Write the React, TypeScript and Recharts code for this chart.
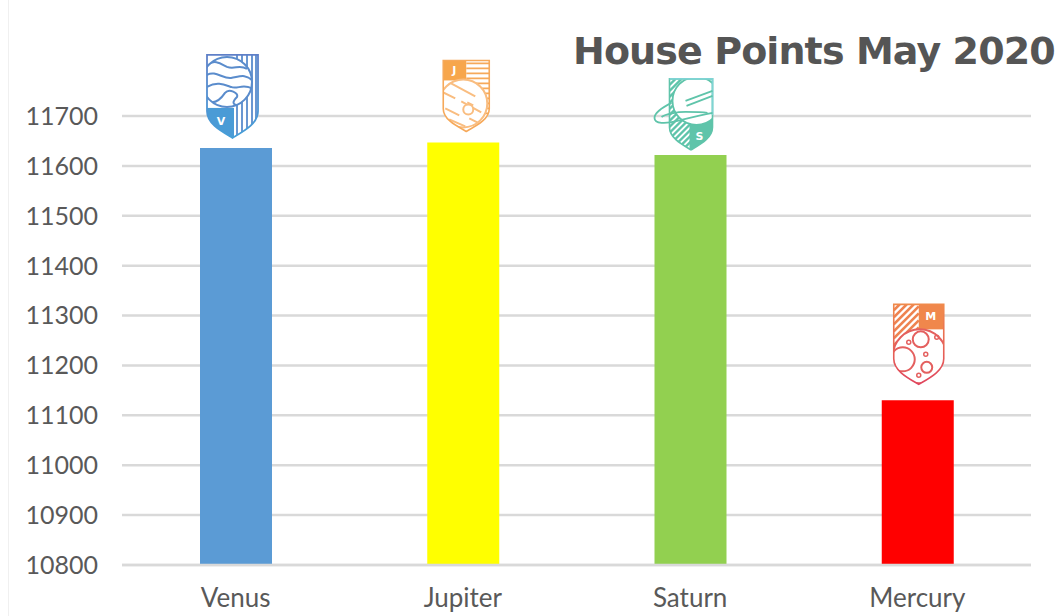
import { Bar, BarChart, CartesianGrid, Cell, LabelList, XAxis, YAxis } from "recharts";

const houses = ["Venus", "Jupiter", "Saturn", "Mercury"];
const points = [11636, 11647, 11622, 11130];
const barColors = ["#5b9bd5", "#ffff00", "#92d050", "#ff0000"];
const yTicks = [10800, 10900, 11000, 11100, 11200, 11300, 11400, 11500, 11600, 11700];

const chartData = houses.map((house, i) => ({ house, points: points[i] }));

const WIDTH = 1060;
const HEIGHT = 616;
const TEXT = "#595959";
const GRID = "#d9d9d9";
const FONT = "Lato, 'Open Sans', sans-serif";

function shieldPath(w: number, h: number) {
  return `M0 0 H${w} V${h * 0.68} C${w} ${h * 0.83} ${w * 0.72} ${h * 0.92} ${w / 2} ${h} C${w * 0.28} ${h * 0.92} 0 ${h * 0.83} 0 ${h * 0.68} Z`;
}

function CrestLetter({ x, y, children }: { x: number; y: number; children: string }) {
  return (
    <text x={x} y={y} fill="#fff" fontFamily="'DejaVu Sans', sans-serif" fontWeight="bold" fontSize={11} textAnchor="middle">
      {children}
    </text>
  );
}

function VenusCrest() {
  const w = 51;
  const h = 83;
  const c = "#5a8ccc";
  return (
    <g fill="none">
      <defs>
        <linearGradient id="venusGrad" x1="0" y1="0" x2="0" y2="1">
          <stop offset="0" stopColor="#5f80c8" />
          <stop offset="1" stopColor="#459fd8" />
        </linearGradient>
        <clipPath id="venusClip"><path d={shieldPath(w, h)} /></clipPath>
        <clipPath id="venusPlanet"><circle cx={20} cy={27} r={25} /></clipPath>
      </defs>
      <path d={shieldPath(w, h)} fill="#fff" />
      <g clipPath="url(#venusClip)">
        <rect x={0} y={53} width={27} height={32} fill="#4a9bd6" />
        {[30, 35, 40, 45, 49].map((sx) => (
          <line key={sx} x1={sx} y1={0} x2={sx} y2={h} stroke={c} strokeWidth={1.8} />
        ))}
        <circle cx={20} cy={27} r={25} fill="#fff" stroke={c} strokeWidth={2} />
        <g clipPath="url(#venusPlanet)" stroke={c} strokeWidth={2}>
          <path d="M0 10 C8 4 14 9 20 12 C28 15 32 9 40 14" />
          <path d="M0 20 C8 15 16 24 24 23 C32 22 38 18 46 26" />
          <path d="M0 32 C10 26 18 30 24 32 C30 35 36 28 46 34" />
          <path d="M0 46 C8 50 14 44 18 38 C22 33 32 38 30 42 C26 46 24 50 32 50 C38 50 42 46 44 44" />
        </g>
      </g>
      <path d={shieldPath(w, h)} stroke="url(#venusGrad)" strokeWidth={1.8} />
      <CrestLetter x={14} y={70}>V</CrestLetter>
    </g>
  );
}

function JupiterCrest() {
  const w = 46;
  const h = 71;
  const c = "#f6a95a";
  return (
    <g fill="none">
      <defs>
        <clipPath id="jupiterClip"><path d={shieldPath(w, h)} /></clipPath>
        <clipPath id="jupiterPlanet"><circle cx={20} cy={43} r={24} /></clipPath>
      </defs>
      <path d={shieldPath(w, h)} fill="#fff" />
      <g clipPath="url(#jupiterClip)">
        <rect x={0} y={0} width={23} height={20} fill="#f7a64c" />
        {[3, 8, 13, 18, 23, 28, 33, 38, 43, 48, 53].map((sy) => (
          <line key={sy} x1={23} y1={sy} x2={w} y2={sy} stroke={c} strokeWidth={1.8} />
        ))}
        <circle cx={20} cy={43} r={24} fill="#fff" stroke="#f9bd80" strokeWidth={2} />
        <g clipPath="url(#jupiterPlanet)" stroke="#f9bd80" strokeWidth={2}>
          <path d="M6 22 L32 36" />
          <path d="M0 32 L12 38 M18 41 L38 52" />
          <path d="M24 42 L30 45" />
          <path d="M2 48 L16 55" />
          <path d="M6 59 L22 66 M26 58 L34 62" />
        </g>
        <circle cx={25} cy={49} r={5} fill="#fff" stroke="#f9bd80" strokeWidth={2} />
      </g>
      <path d={shieldPath(w, h)} stroke={c} strokeWidth={1.6} />
      <CrestLetter x={11} y={14}>J</CrestLetter>
    </g>
  );
}

function SaturnCrest() {
  const w = 43;
  const h = 71;
  const c = "#5fc4aa";
  return (
    <g fill="none">
      <defs>
        <clipPath id="saturnClip"><path d={shieldPath(w, h)} /></clipPath>
      </defs>
      <path d={shieldPath(w, h)} fill="#fff" />
      <g clipPath="url(#saturnClip)">
        {[6, 12, 18, 24, 30, 36, 42, 48, 54, 60, 66, 72, 78, 84].map((d) => (
          <line key={d} x1={0} y1={d} x2={d} y2={0} stroke={c} strokeWidth={2.4} />
        ))}
        <rect x={20} y={40} width={24} height={32} fill={c} />
        <rect x={24} y={0} width={20} height={40} fill="#fff" />
        <circle cx={27} cy={22} r={24} fill="#fff" stroke={c} strokeWidth={1.8} />
      </g>
      <path d={shieldPath(w, h)} stroke={c} strokeWidth={1.6} />
      <path d={`M0 0 H${w} V36`} stroke="#7fd4d4" strokeWidth={1.8} />
      <g stroke={c} strokeWidth={1.8}>
        <path d="M2 24 C-8 29 -15 34 -15 39 C-15 45 -4 45 8 42 C20 39 32 36 43 34" />
        <path d="M-8 38 C-4 35 8 33 16 33 C24 33 32 33 38 34" />
        <path d="M17 27 L43 17" />
        <path d="M16 22 L43 12" />
      </g>
      <CrestLetter x={30} y={61}>S</CrestLetter>
    </g>
  );
}

function MercuryCrest() {
  const w = 50;
  const h = 80;
  const stroke = "#e4605f";
  return (
    <g fill="none">
      <defs>
        <linearGradient id="mercuryGrad" x1="0" y1="0" x2="0" y2="1">
          <stop offset="0" stopColor="#f08a4b" />
          <stop offset="1" stopColor="#e0455e" />
        </linearGradient>
        <clipPath id="mercuryClip"><path d={shieldPath(w, h)} /></clipPath>
      </defs>
      <path d={shieldPath(w, h)} fill="#fff" />
      <g clipPath="url(#mercuryClip)">
        <rect x={25} y={0} width={25} height={25} fill="#f0874c" />
        {[6, 13, 20, 27, 34, 41, 48, 55, 62, 69].map((d) => (
          <line key={d} x1={0} y1={d} x2={Math.min(d, 25)} y2={d - Math.min(d, 25)} stroke="#ee8350" strokeWidth={2.6} />
        ))}
        <circle cx={26} cy={52} r={27} fill="#fff" stroke={stroke} strokeWidth={2} />
        <circle cx={27} cy={35} r={8} stroke={stroke} strokeWidth={2} />
        <circle cx={9} cy={55} r={12} stroke={stroke} strokeWidth={2} />
        <circle cx={33} cy={63} r={5.5} stroke={stroke} strokeWidth={2} />
        <circle cx={15} cy={38} r={2} stroke={stroke} strokeWidth={1.5} />
        <circle cx={43} cy={33} r={2} stroke={stroke} strokeWidth={1.5} />
        <circle cx={32} cy={50} r={2} stroke={stroke} strokeWidth={1.5} />
        <circle cx={25} cy={71} r={2} stroke={stroke} strokeWidth={1.5} />
      </g>
      <path d={shieldPath(w, h)} stroke="url(#mercuryGrad)" strokeWidth={1.6} />
      <CrestLetter x={37} y={16}>M</CrestLetter>
    </g>
  );
}

const crests: Record<string, { dx: number; dy: number; Icon: () => React.ReactElement }> = {
  Venus: { dx: 7, dy: -93, Icon: VenusCrest },
  Jupiter: { dx: 16, dy: -82, Icon: JupiterCrest },
  Saturn: { dx: 15, dy: -76, Icon: SaturnCrest },
  Mercury: { dx: 12, dy: -96, Icon: MercuryCrest },
};

function renderCrest(props: any) {
  const crest = crests[props.value];
  if (!crest) return null;
  const { Icon } = crest;
  return (
    <g transform={`translate(${props.x + crest.dx},${props.y + crest.dy})`}>
      <Icon />
    </g>
  );
}

export default function App() {
  return (
    <div style={{ position: "absolute", left: 0, top: 0, width: WIDTH, height: HEIGHT, background: "#fff", overflow: "hidden" }}>
      <div style={{ position: "absolute", left: 8, top: 0, bottom: 0, width: 1, background: "#f0f0f0" }} />
      <BarChart
        width={WIDTH}
        height={HEIGHT}
        data={chartData}
        margin={{ top: 116, right: 29, bottom: 0, left: 0 }}
        barCategoryGap={0}
      >
        <CartesianGrid vertical={false} stroke={GRID} strokeWidth={2.5} />
        <XAxis
          dataKey="house"
          tickLine={false}
          axisLine={{ stroke: GRID, strokeWidth: 2.5 }}
          tick={{ fill: TEXT, fontSize: 26, fontFamily: FONT }}
          tickMargin={18}
          interval={0}
          height={51}
        />
        <YAxis
          width={122}
          domain={[10800, 11700]}
          ticks={yTicks}
          tickLine={false}
          axisLine={false}
          tick={{ fill: TEXT, fontSize: 25, fontFamily: FONT }}
          tickMargin={18}
          interval={0}
          allowDataOverflow
        />
        <Bar dataKey="points" barSize={72} isAnimationActive={false}>
          {chartData.map((d, i) => (
            <Cell key={d.house} fill={barColors[i]} />
          ))}
          <LabelList dataKey="house" content={renderCrest} />
        </Bar>
      </BarChart>
      <div
        style={{
          position: "absolute",
          left: 573,
          top: 29,
          fontFamily: "'DejaVu Sans', sans-serif",
          fontWeight: "bold",
          fontSize: 38,
          letterSpacing: -0.9,
          color: "#555555",
          whiteSpace: "nowrap",
        }}
      >
        House Points May 2020
      </div>
    </div>
  );
}
